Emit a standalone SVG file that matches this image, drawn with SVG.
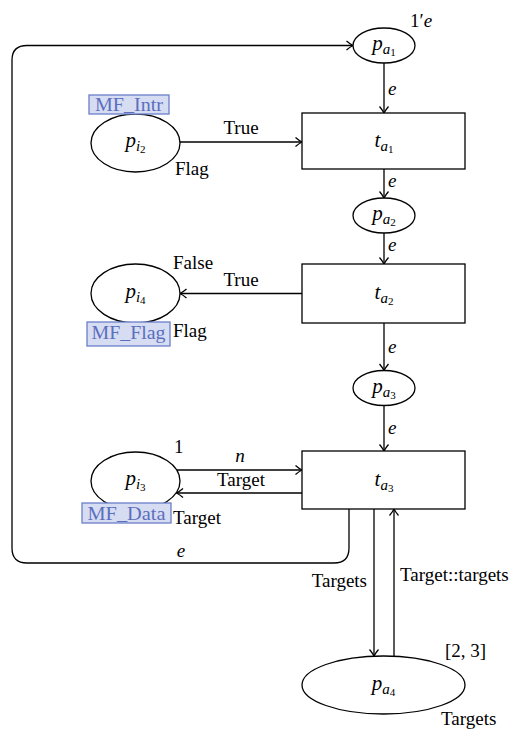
<svg xmlns="http://www.w3.org/2000/svg" width="518" height="734" viewBox="0 0 518 734">
<style>
  .shape{fill:#fff;stroke:#000;stroke-width:1.3}
  .edge{fill:none;stroke:#000;stroke-width:1.3}
  text{font-family:"Liberation Serif","Times New Roman","DejaVu Serif",serif;font-size:19px;fill:#000}
  .it{font-style:italic}
  .lbl{font-size:21px}
  .sub{font-size:15px;font-style:italic}
  .sub2{font-size:11px;font-style:normal}
  .mfbox{fill:#d6dcf2;stroke:#6a7fc8;stroke-width:1.3}
  .mf{fill:#5b6fbe;font-size:18px}
</style>
<defs>
  <marker id="arr" markerUnits="userSpaceOnUse" markerWidth="12" markerHeight="12" viewBox="0 0 12 12" refX="8" refY="6" orient="auto">
    <path d="M1.5,1.5 Q5,4.5 8,6 Q5,7.5 1.5,10.5" fill="none" stroke="#000" stroke-width="1.3"/>
  </marker>
</defs>

<g id="connectors">
  <path class="edge" d="M384,63 V113" marker-end="url(#arr)"/>
  <path class="edge" d="M384,169 V198" marker-end="url(#arr)"/>
  <path class="edge" d="M384,233 V264" marker-end="url(#arr)"/>
  <path class="edge" d="M384,323 V370.5" marker-end="url(#arr)"/>
  <path class="edge" d="M384,405.5 V451" marker-end="url(#arr)"/>
  <path class="edge" d="M180,142 H302" marker-end="url(#arr)"/>
  <path class="edge" d="M302,293.5 H180" marker-end="url(#arr)"/>
  <path class="edge" d="M177,470 H302" marker-end="url(#arr)"/>
  <path class="edge" d="M302,493 H176.5" marker-end="url(#arr)"/>
  <path class="edge" d="M349,509 V548 Q349,563 334,563 H27 Q12,563 12,548 V60 Q12,45.5 27,45.5 H353" marker-end="url(#arr)"/>
  <path class="edge" d="M374,509 V656" marker-end="url(#arr)"/>
  <path class="edge" d="M394,656 V509" marker-end="url(#arr)"/>

  <text x="410" y="27">1′<tspan class="it">e</tspan></text>
  <text class="it" x="388" y="95">e</text>
  <text class="it" x="388" y="187">e</text>
  <text class="it" x="388" y="251">e</text>
  <text class="it" x="388" y="353">e</text>
  <text class="it" x="388" y="434">e</text>
  <text class="it" x="181" y="557" text-anchor="middle">e</text>

  <text x="241" y="134" text-anchor="middle">True</text>
  <text x="175" y="175">Flag</text>
  <text x="173" y="269">False</text>
  <text x="241" y="286" text-anchor="middle">True</text>
  <text x="173" y="337">Flag</text>
  <text x="174" y="453">1</text>
  <text class="it" x="240" y="462" text-anchor="middle">n</text>
  <text x="241" y="486" text-anchor="middle">Target</text>
  <text x="173" y="524">Target</text>
  <text x="367" y="587" text-anchor="end">Targets</text>
  <text x="400" y="581">Target::targets</text>
  <text x="445" y="657">[2, 3]</text>
  <text x="441" y="725">Targets</text>
</g>

<g id="p_a1">
  <ellipse class="shape" cx="384" cy="45.5" rx="31" ry="17.5"/>
  <text class="lbl" x="384" y="50" text-anchor="middle"><tspan class="it">p</tspan><tspan class="sub" baseline-shift="-4">a<tspan class="sub2" baseline-shift="-2">1</tspan></tspan></text>
</g>
<g id="t_a1">
  <rect class="shape" x="302" y="113" width="163" height="56"/>
  <text class="lbl" x="384" y="147" text-anchor="middle"><tspan class="it">t</tspan><tspan class="sub" baseline-shift="-4">a<tspan class="sub2" baseline-shift="-2">1</tspan></tspan></text>
</g>
<g id="p_a2">
  <ellipse class="shape" cx="384" cy="215.5" rx="31" ry="17.5"/>
  <text class="lbl" x="384" y="220" text-anchor="middle"><tspan class="it">p</tspan><tspan class="sub" baseline-shift="-4">a<tspan class="sub2" baseline-shift="-2">2</tspan></tspan></text>
</g>
<g id="t_a2">
  <rect class="shape" x="302" y="264" width="163" height="59"/>
  <text class="lbl" x="384" y="299" text-anchor="middle"><tspan class="it">t</tspan><tspan class="sub" baseline-shift="-4">a<tspan class="sub2" baseline-shift="-2">2</tspan></tspan></text>
</g>
<g id="p_a3">
  <ellipse class="shape" cx="384" cy="388" rx="31" ry="17.5"/>
  <text class="lbl" x="384" y="392.5" text-anchor="middle"><tspan class="it">p</tspan><tspan class="sub" baseline-shift="-4">a<tspan class="sub2" baseline-shift="-2">3</tspan></tspan></text>
</g>
<g id="t_a3">
  <rect class="shape" x="302" y="451" width="163" height="58"/>
  <text class="lbl" x="384" y="486" text-anchor="middle"><tspan class="it">t</tspan><tspan class="sub" baseline-shift="-4">a<tspan class="sub2" baseline-shift="-2">3</tspan></tspan></text>
</g>
<g id="p_a4">
  <ellipse class="shape" cx="383.5" cy="685" rx="81.5" ry="29"/>
  <text class="lbl" x="383.5" y="690" text-anchor="middle"><tspan class="it">p</tspan><tspan class="sub" baseline-shift="-4">a<tspan class="sub2" baseline-shift="-2">4</tspan></tspan></text>
</g>
<g id="p_i2">
  <ellipse class="shape" cx="135.5" cy="143" rx="44.5" ry="29"/>
  <text class="lbl" x="135.5" y="147" text-anchor="middle"><tspan class="it">p</tspan><tspan class="sub" baseline-shift="-4">i<tspan class="sub2" baseline-shift="-2">2</tspan></tspan></text>
  <rect class="mfbox" x="89" y="95" width="80" height="19"/>
  <text class="mf" x="129" y="111" text-anchor="middle" textLength="68" lengthAdjust="spacingAndGlyphs">MF_Intr</text>
</g>
<g id="p_i4">
  <ellipse class="shape" cx="135.5" cy="293.5" rx="44.5" ry="29.5"/>
  <text class="lbl" x="135.5" y="298" text-anchor="middle"><tspan class="it">p</tspan><tspan class="sub" baseline-shift="-4">i<tspan class="sub2" baseline-shift="-2">4</tspan></tspan></text>
  <rect class="mfbox" x="87" y="322" width="83" height="24"/>
  <text class="mf" x="128.5" y="339" text-anchor="middle" textLength="74" lengthAdjust="spacingAndGlyphs">MF_Flag</text>
</g>
<g id="p_i3">
  <ellipse class="shape" cx="135.5" cy="481" rx="44.5" ry="29"/>
  <text class="lbl" x="135.5" y="485" text-anchor="middle"><tspan class="it">p</tspan><tspan class="sub" baseline-shift="-4">i<tspan class="sub2" baseline-shift="-2">3</tspan></tspan></text>
  <rect class="mfbox" x="82" y="503" width="89" height="20"/>
  <text class="mf" x="126.5" y="520" text-anchor="middle" textLength="78" lengthAdjust="spacingAndGlyphs">MF_Data</text>
</g>
</svg>
